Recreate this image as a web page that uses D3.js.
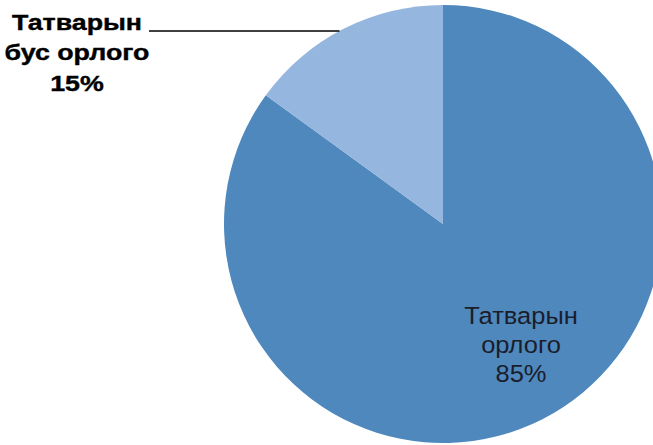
<!DOCTYPE html>
<html lang="mn">
<head>
  <meta charset="UTF-8">
  <title>Татварын орлого</title>
  <style>
    html, body { margin: 0; padding: 0; background: #fff; }
    svg { display: block; }
  </style>
</head>
<body>
  <div id="chart"></div>
  <script src="https://d3js.org/d3.v7.min.js"></script>
  <script>
    // data
    var categories = ["Татварын орлого", "Татварын бус орлого"];
    var values = [85, 15];
    var labelLines = [["Татварын", "орлого", "85%"], ["Татварын", "бус орлого", "15%"]];
    var colors = ["#4e88bd", "#95b6de"];

    var width = 653, height = 445;
    var cx = 443, cy = 224, radius = 219;

    var svg = d3.select("#chart").append("svg")
        .attr("width", width)
        .attr("height", height);

    var pie = d3.pie().sort(null).value(d => d);
    var arcs = pie(values);

    var arc = d3.arc().innerRadius(0).outerRadius(radius);

    var g = svg.append("g").attr("transform", "translate(" + cx + "," + cy + ")");

    g.selectAll("path")
        .data(arcs)
        .enter()
        .append("path")
        .attr("d", arc)
        .attr("fill", (d, i) => colors[i]);

    // label inside the big slice
    var inner = svg.append("text")
        .attr("text-anchor", "middle")
        .attr("transform", "translate(521,0) scale(1.04,1)")
        .attr("font-family", "Arial, 'Liberation Sans', sans-serif")
        .attr("font-size", 24.5)
        .attr("fill", "#1b1d2b");
    labelLines[0].forEach(function(t, i) {
      inner.append("tspan").attr("x", 0).attr("y", 324 + i * 29).text(t);
    });

    // outside label for the small slice (the original text is stretched wide)
    var outer = svg.append("text")
        .attr("text-anchor", "middle")
        .attr("transform", "translate(77,0) scale(1.19,1)")
        .attr("font-family", "Arial, 'Liberation Sans', sans-serif")
        .attr("font-weight", "bold")
        .attr("font-size", 22.5)
        .attr("fill", "#000")
        .attr("stroke", "#000")
        .attr("stroke-width", 0.4);
    labelLines[1].forEach(function(t, i) {
      outer.append("tspan").attr("x", 0).attr("y", 30 + i * 30.5).text(t);
    });

    // leader line: from label to the edge of the small slice
    var ly = 31;
    var dy = cy - ly;
    var ex = cx - Math.sqrt(radius * radius - dy * dy);
    svg.append("line")
        .attr("x1", 149).attr("y1", ly)
        .attr("x2", ex).attr("y2", ly)
        .attr("stroke", "#000")
        .attr("stroke-width", 1.6);
  </script>
</body>
</html>
